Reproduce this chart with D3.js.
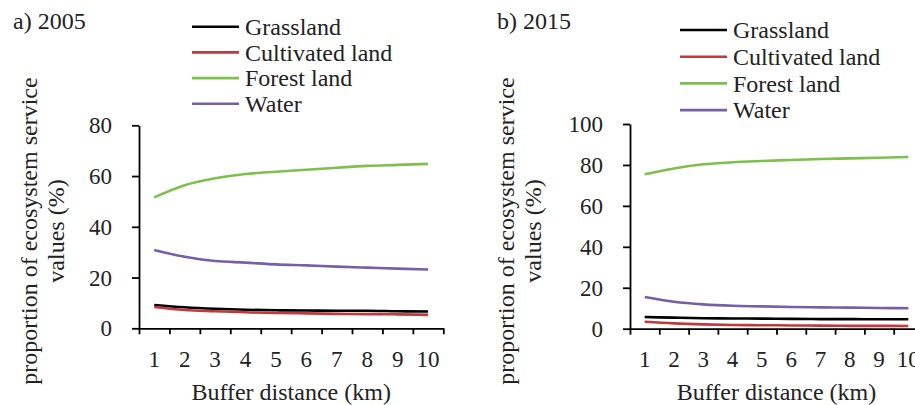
<!DOCTYPE html>
<html><head><meta charset="utf-8"><script src="https://cdn.jsdelivr.net/npm/d3@7"></script></head>
<body style="margin:0">
<svg id="chart" width="915" height="405"></svg>
<script>
// buffer distances (km)
var distances = [1, 2, 3, 4, 5, 6, 7, 8, 9, 10];
var landTypes = ["Grassland", "Cultivated land", "Forest land", "Water"];
var landColors = ["#000000", "#c0393b", "#7fbf4d", "#7560a8"];

// 2005 values (%)
var grass2005 = [9.2, 8.3, 7.7, 7.3, 7.1, 7.0, 6.9, 6.9, 6.7, 6.6];
var cultivated2005 = [8.4, 7.2, 6.7, 6.3, 6.0, 5.9, 5.7, 5.6, 5.5, 5.3];
var forest2005 = [51.6, 56.4, 59.1, 60.8, 61.7, 62.5, 63.3, 64.0, 64.4, 64.8];
var water2005 = [30.9, 28.2, 26.5, 25.9, 25.2, 24.8, 24.3, 23.9, 23.5, 23.2];

// 2015 values (%)
var grass2015 = [5.7, 5.4, 5.1, 5.0, 4.9, 4.8, 4.7, 4.7, 4.6, 4.6];
var cultivated2015 = [3.4, 2.6, 2.1, 1.8, 1.7, 1.6, 1.5, 1.4, 1.4, 1.3];
var forest2015 = [75.4, 78.3, 80.3, 81.3, 81.9, 82.4, 82.9, 83.2, 83.5, 83.9];
var water2015 = [15.5, 13.2, 11.9, 11.2, 10.9, 10.6, 10.4, 10.3, 10.1, 10.0];

var yTicks2005 = [0, 20, 40, 60, 80];
var yTicks2015 = [0, 20, 40, 60, 80, 100];

var svg = d3.select("#chart");

function serifFont() { return "'Liberation Serif'"; }

function drawPanel(opt) {
    var x = d3.scaleLinear().domain([0.5, 10.5]).range([opt.x0, opt.x1]);
    var y = d3.scaleLinear().domain([0, opt.yMax]).range([opt.y0, opt.y1]);

    // y axis (marks only)
    var ya = svg.append("g")
        .attr("transform", "translate(" + opt.x0 + ",0)")
        .call(d3.axisLeft(y).tickValues(opt.yTicks).tickSize(7).tickFormat("").tickSizeOuter(0));
    ya.selectAll("path, line").attr("stroke", "#000").attr("stroke-width", 1.8);

    // x axis: tick marks between categories
    var xa = svg.append("g")
        .attr("transform", "translate(0," + opt.y0 + ")")
        .call(d3.axisBottom(x).tickValues(d3.range(0.5, 11, 1)).tickFormat("").tickSize(6).tickSizeOuter(0));
    xa.selectAll("path, line").attr("stroke", "#000").attr("stroke-width", 1.8);

    // lines
    var line = d3.line()
        .x(function(d, i) { return x(distances[i]); })
        .y(function(d) { return y(d); })
        .curve(d3.curveMonotoneX);

    svg.selectAll(null)
        .data(opt.series)
        .enter().append("path")
        .attr("fill", "none")
        .attr("stroke", function(d, i) { return landColors[i]; })
        .attr("stroke-width", 2.6)
        .attr("d", line);

    // all texts of the panel
    var texts = [];
    opt.yTicks.forEach(function(v) {
        texts.push({ t: String(v), x: opt.x0 - 27, y: y(v) + 8, a: "end", s: 23 });
    });
    distances.forEach(function(v) {
        texts.push({ t: String(v), x: x(v), y: opt.y0 + 38.5, a: "middle", s: 23 });
    });
    texts.push({ t: opt.title, x: opt.titleX, y: 28.5, a: "start", s: 24 });
    texts.push({ t: "proportion of ecosystem service", x: opt.labelX, y: 231, a: "middle", s: 24, r: true });
    texts.push({ t: "values (%)", x: opt.labelX + 26.5, y: 231, a: "middle", s: 24, r: true });
    texts.push({ t: "Buffer distance (km)", x: (opt.x0 + opt.x1) / 2, y: 400, a: "middle", s: 24 });
    landTypes.forEach(function(name, i) {
        texts.push({ t: name, x: opt.legX + 53, y: opt.legY + i * opt.legStep + 8.3, a: "start", s: 24 });
    });

    svg.selectAll(null)
        .data(texts)
        .enter().append("text")
        .attr("transform", function(d) {
            return "translate(" + d.x + "," + d.y + ")" + (d.r ? " rotate(-90)" : "");
        })
        .attr("text-anchor", function(d) { return d.a; })
        .attr("font-size", function(d) { return d.s; })
        .attr("fill", "#222")
        .style("font-family", serifFont)
        .text(function(d) { return d.t; });

    // legend lines
    svg.selectAll(null)
        .data(landTypes)
        .enter().append("line")
        .attr("x1", opt.legX).attr("x2", opt.legX + 47)
        .attr("y1", function(d, i) { return opt.legY + i * opt.legStep; })
        .attr("y2", function(d, i) { return opt.legY + i * opt.legStep; })
        .attr("stroke", function(d, i) { return landColors[i]; })
        .attr("stroke-width", 2.6);
}

drawPanel({
    title: "a) 2005", titleX: 13,
    x0: 139, x1: 443.3, y0: 328.3, y1: 125.3, yMax: 80, yTicks: yTicks2005,
    labelX: 37, legX: 192, legY: 26.7, legStep: 25.7,
    series: [grass2005, cultivated2005, forest2005, water2005]
});

drawPanel({
    title: "b) 2015", titleX: 497,
    x0: 630, x1: 923, y0: 328.7, y1: 124, yMax: 100, yTicks: yTicks2015,
    labelX: 514, legX: 680, legY: 30, legStep: 26.7,
    series: [grass2015, cultivated2015, forest2015, water2015]
});
</script>
</body>
</html>
